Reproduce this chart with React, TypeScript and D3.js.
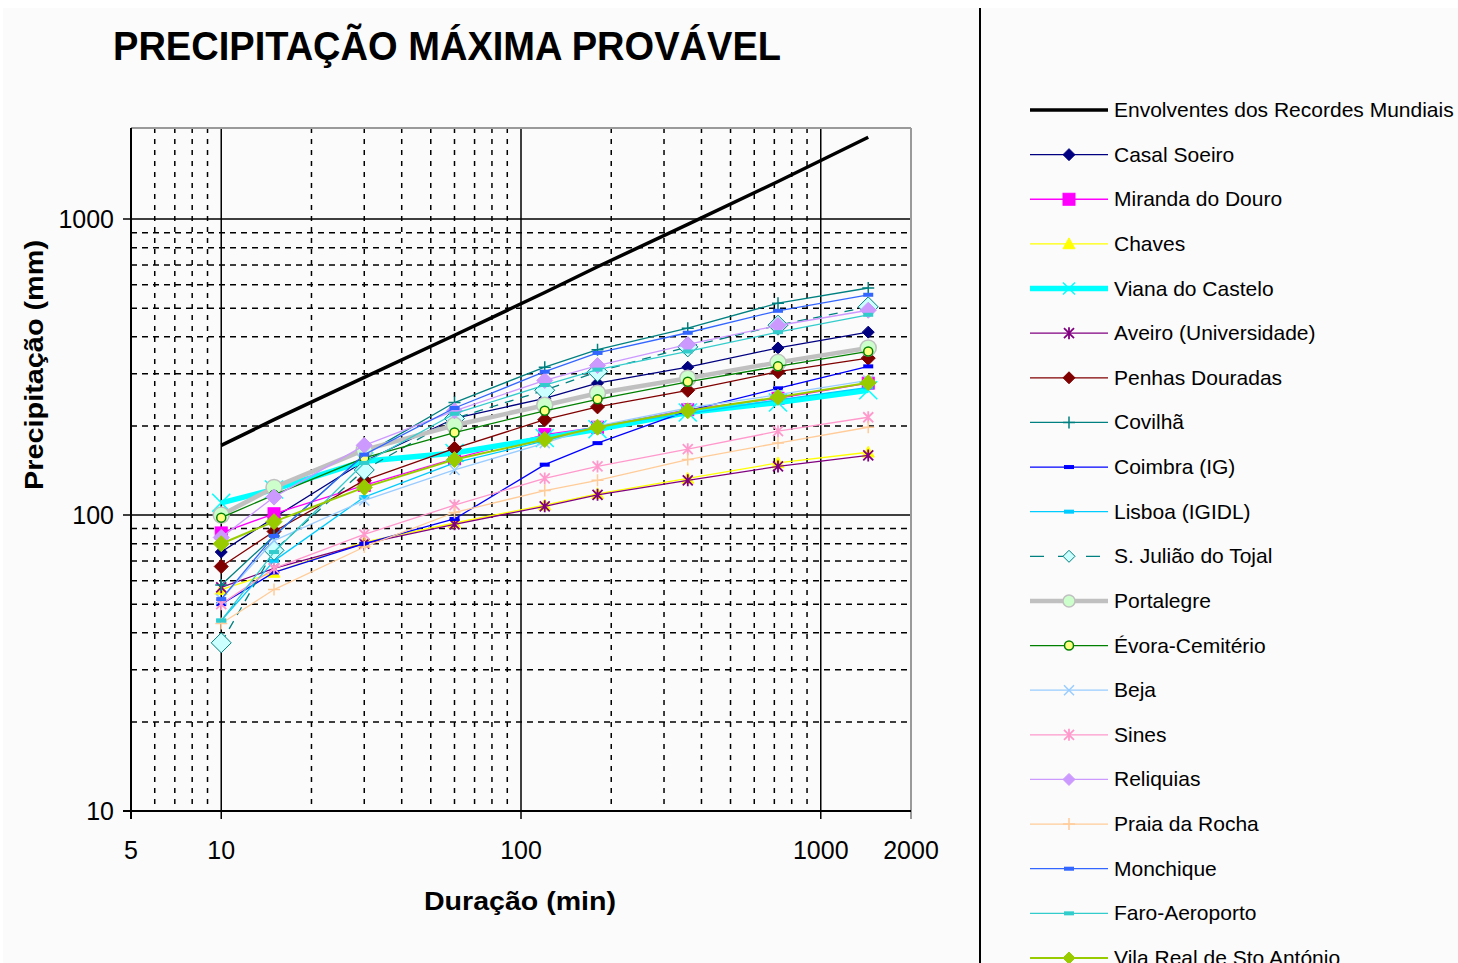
import React from "react";
import * as d3 from "d3";

const durations = [10, 15, 30, 60, 120, 180, 360, 720, 1440];

const envolventes = [172, 210, 292, 405, 565, 690, 960, 1340, 1890];
const casalSoeiro = [75, 98, 152, 212, 248, 279, 316, 367, 415];
const mirandaDouro = [87, 101, 126, 155, 187, 198, 227, 248, 279];
const chaves = [56, 64, 81, 94, 108, 118, 133, 150, 163];
const vianaCastelo = [110, 122, 152, 162, 182, 195, 222, 240, 264];
const aveiro = [57, 66, 80, 93, 107, 117, 131, 146, 159];
const penhasDouradas = [67, 88, 131, 168, 210, 232, 264, 305, 339];
const covilha = [58, 85, 160, 240, 316, 362, 428, 520, 585];
const coimbra = [50, 64, 80, 97, 148, 175, 225, 268, 318];
const lisboa = [44, 70, 115, 150, 178, 200, 220, 245, 270];
const sJuliao = [37, 76, 142, 212, 264, 305, 370, 438, 505];
const portalegre = [100, 124, 166, 201, 235, 258, 290, 328, 367];
const evora = [98, 117, 156, 190, 225, 246, 282, 318, 357];
const beja = [52, 82, 112, 142, 175, 200, 230, 255, 285];
const sines = [50, 66, 86, 108, 133, 146, 167, 192, 214];
const reliquias = [84, 115, 172, 225, 285, 320, 377, 437, 492];
const praiaRocha = [43, 56, 78, 102, 121, 131, 154, 175, 198];
const monchique = [52, 85, 160, 230, 305, 353, 413, 490, 555];
const faro = [44, 75, 150, 220, 275, 310, 357, 415, 475];
const vilaReal = [80, 95, 124, 154, 180, 198, 225, 250, 280];

const seriesNames = [
  "Envolventes dos Recordes Mundiais",
  "Casal Soeiro",
  "Miranda do Douro",
  "Chaves",
  "Viana do Castelo",
  "Aveiro (Universidade)",
  "Penhas Douradas",
  "Covilhã",
  "Coimbra (IG)",
  "Lisboa (IGIDL)",
  "S. Julião do Tojal",
  "Portalegre",
  "Évora-Cemitério",
  "Beja",
  "Sines",
  "Reliquias",
  "Praia da Rocha",
  "Monchique",
  "Faro-Aeroporto",
  "Vila Real de Sto António",
];
const seriesValues = [
  envolventes, casalSoeiro, mirandaDouro, chaves, vianaCastelo, aveiro,
  penhasDouradas, covilha, coimbra, lisboa, sJuliao, portalegre, evora,
  beja, sines, reliquias, praiaRocha, monchique, faro, vilaReal,
];

type Style = {
  color: string;
  width: number;
  dash?: string;
  marker: string;
  mfill?: string;
  mstroke?: string;
  msize: number;
};

const styles: Style[] = [
  { color: "#000000", width: 3.5, marker: "none", msize: 0 },
  { color: "#000080", width: 1.3, marker: "diamond", msize: 6 },
  { color: "#FF00FF", width: 1.3, marker: "square", msize: 6 },
  { color: "#FFFF00", width: 1.3, marker: "triangle", msize: 6 },
  { color: "#00FFFF", width: 5.5, marker: "x", msize: 9 },
  { color: "#800080", width: 1.3, marker: "star", msize: 5 },
  { color: "#800000", width: 1.3, marker: "diamond", msize: 7 },
  { color: "#008080", width: 1.3, marker: "plus", msize: 6 },
  { color: "#0000FF", width: 1.3, marker: "dash", msize: 5 },
  { color: "#00CCFF", width: 1.3, marker: "dash", msize: 5 },
  { color: "#008080", width: 1.3, dash: "9,7", marker: "diamond", mfill: "#CCFFFF", mstroke: "#008080", msize: 10 },
  { color: "#C0C0C0", width: 4.5, marker: "circle", mfill: "#CCFFCC", mstroke: "#C0C0C0", msize: 8 },
  { color: "#008000", width: 1.3, marker: "circle", mfill: "#FFFF80", mstroke: "#008000", msize: 4.5 },
  { color: "#99CCFF", width: 1.3, marker: "x", msize: 5 },
  { color: "#FF99CC", width: 1.3, marker: "star", msize: 5 },
  { color: "#CC99FF", width: 1.3, marker: "diamond", msize: 8 },
  { color: "#FFCC99", width: 1.3, marker: "plus", msize: 6 },
  { color: "#3366FF", width: 1.3, marker: "dash", msize: 5 },
  { color: "#33CCCC", width: 1.3, marker: "dash", msize: 5 },
  { color: "#99CC00", width: 2, marker: "diamond", msize: 8 },
];

const xTickLabels = [5, 10, 100, 1000, 2000];
const yTickLabels = [10, 100, 1000];
const xMinorGrid = [6, 7, 8, 9, 20, 30, 40, 50, 60, 70, 80, 90, 200, 300, 400, 500, 600, 700, 800, 900];
const xMajorGrid = [10, 100, 1000];
const yMinorGrid = [20, 30, 40, 50, 60, 70, 80, 90, 200, 300, 400, 500, 600, 700, 800, 900];
const yMajorGrid = [100, 1000];

const FONT = "'Liberation Sans', Arial, sans-serif";

function Marker({ s, cx, cy }: { s: Style; cx: number; cy: number }) {
  const r = s.msize;
  const fill = s.mfill ?? s.color;
  const stroke = s.mstroke ?? s.color;
  switch (s.marker) {
    case "diamond":
      return (
        <path
          d={`M${cx},${cy - r}L${cx + r},${cy}L${cx},${cy + r}L${cx - r},${cy}Z`}
          fill={fill}
          stroke={stroke}
          strokeWidth={1}
        />
      );
    case "square":
      return <rect x={cx - r} y={cy - r} width={2 * r} height={2 * r} fill={fill} stroke={stroke} strokeWidth={1} />;
    case "triangle":
      return (
        <path d={`M${cx},${cy - r}L${cx + r},${cy + r * 0.8}L${cx - r},${cy + r * 0.8}Z`} fill={fill} stroke={stroke} />
      );
    case "circle":
      return <circle cx={cx} cy={cy} r={r} fill={fill} stroke={stroke} strokeWidth={1.5} />;
    case "x":
      return (
        <path
          d={`M${cx - r},${cy - r}L${cx + r},${cy + r}M${cx - r},${cy + r}L${cx + r},${cy - r}`}
          stroke={stroke}
          strokeWidth={1.5}
        />
      );
    case "plus":
      return (
        <path d={`M${cx - r},${cy}L${cx + r},${cy}M${cx},${cy - r}L${cx},${cy + r}`} stroke={stroke} strokeWidth={1.5} />
      );
    case "star":
      return (
        <path
          d={`M${cx - r},${cy - r}L${cx + r},${cy + r}M${cx - r},${cy + r}L${cx + r},${cy - r}M${cx},${cy - r * 1.2}L${cx},${cy + r * 1.2}`}
          stroke={stroke}
          strokeWidth={1.8}
        />
      );
    case "dash":
      return <rect x={cx - r} y={cy - 2} width={2 * r} height={4} fill={fill} />;
    default:
      return null;
  }
}

export default function App() {
  const W = 1458;
  const H = 963;
  const left = 131, right = 911, top = 128, bottom = 811;
  const x = d3.scaleLog().domain([5, 2000]).range([left, right]);
  const y = d3.scaleLog().domain([10, 2000]).range([bottom, 130]);

  const line = d3
    .line<number>()
    .x((_, i) => x(durations[i]))
    .y((v) => y(v));

  const legendX0 = 1030, legendX1 = 1108, legendTextX = 1114;
  const legendY0 = 110, legendStep = 44.63;

  return (
    <svg
      width={W}
      height={H}
      style={{ position: "absolute", left: 0, top: 0, display: "block" }}
      xmlns="http://www.w3.org/2000/svg"
    >
      <rect x={0} y={0} width={W} height={H} fill="#ffffff" />
      <rect x={3} y={8} width={W - 3} height={H - 8} fill="#fbfbfb" />
      <line x1={980} x2={980} y1={8} y2={H} stroke="#000" strokeWidth={2} />

      {/* Title */}
      <text
        x={113}
        y={60}
        fontFamily={FONT}
        fontWeight="bold"
        fontSize={41}
        textLength={668}
        lengthAdjust="spacingAndGlyphs"
        fill="#000"
      >
        PRECIPITAÇÃO MÁXIMA PROVÁVEL
      </text>

      {/* Grid */}
      <g>
        {xMinorGrid.map((v) => (
          <line key={"xm" + v} x1={x(v)} x2={x(v)} y1={top} y2={bottom} stroke="#000" strokeWidth={1.5} strokeDasharray="5,6" />
        ))}
        {yMinorGrid.map((v) => (
          <line key={"ym" + v} x1={left} x2={right} y1={y(v)} y2={y(v)} stroke="#000" strokeWidth={1.5} strokeDasharray="6,5" />
        ))}
        {xMajorGrid.map((v) => (
          <line key={"xM" + v} x1={x(v)} x2={x(v)} y1={top} y2={bottom + 8} stroke="#000" strokeWidth={1.5} />
        ))}
        {yMajorGrid.map((v) => (
          <line key={"yM" + v} x1={left - 8} x2={right} y1={y(v)} y2={y(v)} stroke="#000" strokeWidth={1.5} />
        ))}
      </g>

      {/* Plot frame */}
      <line x1={left} x2={right} y1={top} y2={top} stroke="#9a9a9a" strokeWidth={2} />
      <line x1={right} x2={right} y1={top} y2={bottom + 8} stroke="#9a9a9a" strokeWidth={2} />
      <line x1={left} x2={left} y1={top} y2={bottom + 8} stroke="#000" strokeWidth={2} />
      <line x1={left - 8} x2={right} y1={bottom} y2={bottom} stroke="#000" strokeWidth={2} />

      {/* Series */}
      {seriesValues.map((vals, si) => {
        const s = styles[si];
        return (
          <g key={"s" + si}>
            <path
              d={line(vals) ?? ""}
              fill="none"
              stroke={s.color}
              strokeWidth={s.width}
              strokeDasharray={s.dash}
              strokeLinejoin="round"
            />
            {vals.map((v, i) => (
              <Marker key={i} s={s} cx={x(durations[i])} cy={y(v)} />
            ))}
          </g>
        );
      })}

      {/* Axis tick labels */}
      {xTickLabels.map((v) => (
        <text key={"xt" + v} x={x(v)} y={859} textAnchor="middle" fontFamily={FONT} fontSize={25} fill="#000">
          {v}
        </text>
      ))}
      {yTickLabels.map((v) => (
        <text key={"yt" + v} x={114} y={y(v) + 9} textAnchor="end" fontFamily={FONT} fontSize={25} fill="#000">
          {v}
        </text>
      ))}

      {/* Axis titles */}
      <text
        x={424}
        y={910}
        fontFamily={FONT}
        fontWeight="bold"
        fontSize={25}
        textLength={192}
        lengthAdjust="spacingAndGlyphs"
        fill="#000"
      >
        Duração (min)
      </text>
      <text
        transform="translate(43,490) rotate(-90)"
        fontFamily={FONT}
        fontWeight="bold"
        fontSize={25}
        textLength={250}
        lengthAdjust="spacingAndGlyphs"
        fill="#000"
      >
        Precipitação (mm)
      </text>

      {/* Legend */}
      {seriesNames.map((name, i) => {
        const s = styles[i];
        const ly = legendY0 + i * legendStep;
        const ms: Style = { ...s, msize: Math.min(s.msize, 6) };
        return (
          <g key={"lg" + i}>
            <line
              x1={legendX0}
              x2={legendX1}
              y1={ly}
              y2={ly}
              stroke={s.color}
              strokeWidth={s.width}
              strokeDasharray={s.dash ? "14,14" : undefined}
            />
            <Marker s={ms} cx={(legendX0 + legendX1) / 2} cy={ly} />
            <text x={legendTextX} y={ly + 7} fontFamily={FONT} fontSize={21} fill="#000">
              {name}
            </text>
          </g>
        );
      })}
    </svg>
  );
}
